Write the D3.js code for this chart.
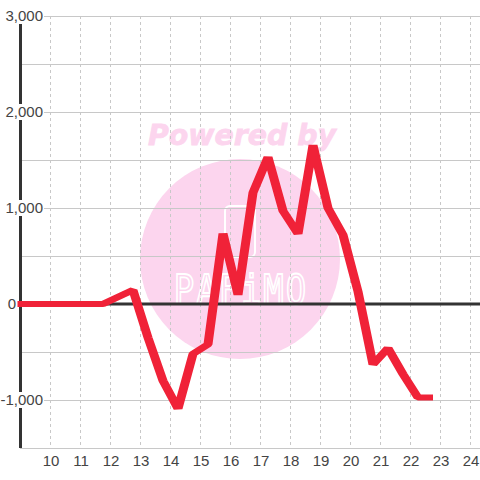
<!DOCTYPE html>
<html><head><meta charset="utf-8">
<script src="https://cdn.jsdelivr.net/npm/d3@7"></script>
<style>html,body{margin:0;padding:0;background:#fff}svg{display:block}text{font-family:"Liberation Sans",sans-serif}</style>
</head><body><svg id="c" width="480" height="480"></svg>
<script>
const hours=[8.9,9.25,9.75,10.25,10.75,11.25,11.75,12.75,13.25,13.75,14.25,14.75,15.25,15.75,16.25,16.75,17.25,17.75,18.25,18.75,19.25,19.75,20.25,20.75,21.25,21.75,22.25,22.75];
const values=[0,0,0,0,0,0,0,145,-350,-800,-1090,-520,-420,735,95,1160,1530,970,730,1655,1000,720,130,-630,-460,-730,-975,-975];
const xTicks=[10,11,12,13,14,15,16,17,18,19,20,21,22,23,24];
const yLabels=[3000,2000,1000,0,-1000];
const yGrid=[3000,2500,2000,1500,1000,500,0,-500,-1000,-1500];
const wmLetters=["P","A","F","i","M","O"];
const svg=d3.select("#c");
const x=d3.scaleLinear().domain([10,24]).range([50.5,470.5]);
const y=d3.scaleLinear().domain([-1500,3000]).range([448,16]);
const fmt=d3.format(",");
const pink="#fcd5ee";
const wm=svg.append("g");
wm.append("circle").attr("cx",240).attr("cy",259).attr("r",100).attr("fill",pink);
wm.append("text").attr("x",242).attr("y",145).attr("text-anchor","middle").attr("font-size",28).attr("font-weight","bold").attr("font-style","italic").attr("textLength",188).attr("lengthAdjust","spacingAndGlyphs").style("font-family","'DejaVu Sans',sans-serif").attr("fill",pink).attr("stroke",pink).attr("stroke-width",0.8).text("Powered by");
wm.append("rect").attr("x",225).attr("y",206).attr("width",30).attr("height",51).attr("rx",5).attr("fill","none").attr("stroke","#fff").attr("stroke-width",2);
const lx=d3.scalePoint().domain(wmLetters).range([184,296]);
wm.selectAll("text.l").data(wmLetters).join("text").attr("class","l").attr("text-anchor","middle")
  .attr("transform",d=>`translate(${lx(d)},304) scale(0.85,1)`).attr("font-size",40).attr("fill",pink).attr("stroke","#fff").attr("stroke-width",1.8).style("font-family","'DejaVu Sans Mono',monospace").text(d=>d);
const grid=svg.append("g");
grid.selectAll("line.h").data(yGrid).join("line").attr("class","h").attr("x1",20).attr("x2",480).attr("y1",d=>Math.round(y(d))+0.5).attr("y2",d=>Math.round(y(d))+0.5).attr("stroke","#c8c8c8").attr("stroke-width",1);
grid.selectAll("line.v").data(xTicks).join("line").attr("class","v").attr("x1",d=>x(d)).attr("x2",d=>x(d)).attr("y1",16).attr("y2",448).attr("stroke","#c8c8c8").attr("stroke-dasharray","3,3");
svg.append("line").attr("x1",20.5).attr("x2",20.5).attr("y1",24).attr("y2",448).attr("stroke","#333").attr("stroke-width",3);
svg.append("line").attr("x1",20).attr("x2",480).attr("y1",y(0)).attr("y2",y(0)).attr("stroke","#333").attr("stroke-width",3);
const penX=1.5;
svg.append("path").attr("transform",`scale(${penX},1)`).attr("d",d3.line().x((d,i)=>x(hours[i])/penX).y(d=>y(d))(values)).attr("fill","none").attr("stroke","#f02238").attr("stroke-width",6).attr("stroke-linejoin","bevel");
const yl=svg.append("g");
yl.selectAll("rect").data(yLabels.filter(d=>d!==0)).join("rect").attr("x",d=>d<0?1:5).attr("y",d=>y(d)-8).attr("width",d=>d<0?43:39).attr("height",16).attr("fill","#fff");
yl.selectAll("text").data(yLabels).join("text").attr("x",d=>d===0?16:43).attr("y",d=>y(d)+5).attr("text-anchor","end").attr("font-size",15).attr("fill","#444").text(d=>fmt(d).replace("−","-"));
svg.append("g").selectAll("text").data(xTicks).join("text").attr("x",d=>x(d)+0.5).attr("y",466).attr("text-anchor","middle").attr("font-size",15).attr("fill","#444").text(d=>d);
</script></body></html>
